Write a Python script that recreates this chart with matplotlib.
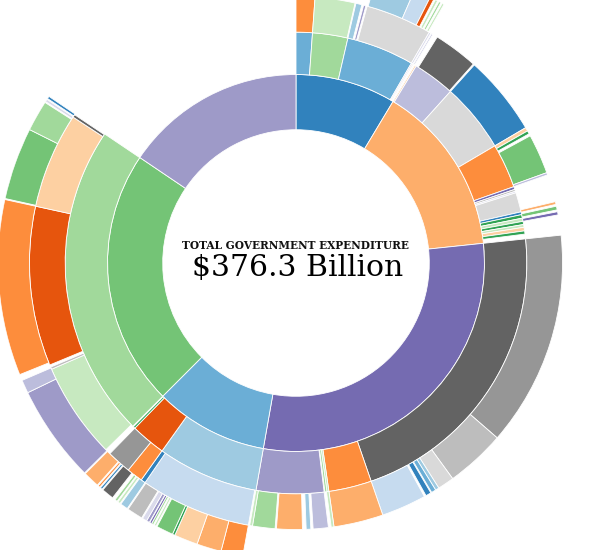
import numpy as np
import matplotlib.pyplot as plt

TOTAL = 376.3  # billion

# values in billions, clockwise from 12 o'clock; None colour = no segment there
ring1_vals = [32.4, 55.4, 110.8, 36.6, 82.6, 58.5]
ring1_cols = ['#3182bd', '#fdae6b', '#756bb1', '#6baed6', '#74c476', '#9e9ac8']

ring2_vals = [4.29, 9.30, 17.77, 0.31, 0.31, 0.21, 0.21,
              0.42, 11.08, 18.29, 11.71, 0.73, 0.52, 0.42, 5.12, 0.73, 0.94, 0.84, 0.84, 0.73, 0.94, 0.84, 1.25,
              80.49, 11.29, 0.52, 0.52, 0.21, 17.77,
              26.65, 9.20, 0.52, 0.21,
              82.58]
ring2_cols = ['#6baed6', '#a1d99b', '#6baed6', '#bcbddc', '#dadaeb', '#fdae6b', None,
              '#fdd0a2', '#bcbddc', '#d9d9d9', '#fd8d3c', '#756bb1', '#bdbdbd', '#dadaeb', '#d9d9d9', '#3182bd',
              '#31a354', '#c7e9c0', '#31a354', '#c7e9c0', '#fdd0a2', '#31a354', None,
              '#636363', '#fd8d3c', '#c7e9c0', '#a1d99b', None, '#9e9ac8',
              '#9ecae1', '#e6550d', '#31a354', None,
              '#a1d99b']

ring3_vals = [4.29, 9.09, 0.21, 1.36, 0.42, 0.52, 0.31, 15.16, 0.42, 0.21, 0.31, 0.10,
              1.05, 10.14, 0.31, 18.29, 0.84, 0.73, 0.52, 9.09, 0.52, 6.27, 0.63, 0.42, 0.84, 0.42, 0.73, 4.60,
              49.13, 13.59, 3.76, 0.84, 1.05, 0.21, 1.25, 0.42, 10.24,
              11.29, 0.63, 0.63, 3.45, 0.52, 1.05, 0.84, 5.85, 0.31, 5.12, 0.63,
              0.31, 25.30, 1.05, 3.66, 5.54, 0.73,
              0.52, 21.95, 0.52, 0.52, 36.38, 21.85, 0.63, 0.21]
ring3_cols = ['#fd8d3c', '#c7e9c0', None, '#9ecae1', None, '#9e9ac8', None, '#d9d9d9', '#dadaeb', None, '#bcbddc', None,
              None, '#636363', None, '#3182bd', '#fdd0a2', '#31a354', None, '#74c476', '#bcbddc', None,
              '#fdae6b', None, '#74c476', None, '#756bb1', None,
              '#969696', '#bdbdbd', '#d9d9d9', '#9ecae1', '#6baed6', None, '#3182bd', None, '#c6dbef',
              '#fdae6b', '#c7e9c0', None, '#bcbddc', None, '#9ecae1', None, '#fdae6b', None, '#a1d99b', '#c7e9c0',
              None, '#c6dbef', '#3182bd', '#fd8d3c', '#969696', None,
              None, '#c7e9c0', '#bdbdbd', None, '#e6550d', '#fdd0a2', '#636363', None]

ring4_vals = [16.41, 8.15, 3.45, 0.84, 0.31, 0.52, 0.31, 0.42, 0.31, 0.42, 167.77,
              4.49, 5.02, 4.81, 0.52, 3.45, 0.21, 0.42, 0.21, 0.42, 0.42, 0.10, 0.63, 0.94, 0.21,
              3.24, 0.21, 1.57, 0.21, 0.52, 0.21, 0.52, 0.63, 2.51, 0.21, 0.42, 0.21, 0.42, 0.21, 3.34, 0.21,
              19.86, 2.72, 1.25, 35.85, 0.21, 14.74, 6.27, 0.21, 0.52, 0.21, 0.52]
ring4_cols = [None, '#9ecae1', '#c6dbef', '#e6550d', None, '#c7e9c0', None, '#a1d99b', None, '#c7e9c0', None,
              '#fd8d3c', '#fdae6b', '#fdd0a2', '#31a354', '#74c476', None, '#c7e9c0', None, '#a1d99b',
              '#756bb1', None, '#9e9ac8', '#dadaeb', None,
              '#bdbdbd', None, '#9ecae1', None, '#c7e9c0', None, '#a1d99b', None, '#636363', None,
              '#3182bd', None, '#fd8d3c', None, '#fdae6b', None,
              '#9e9ac8', '#bcbddc', None, '#fd8d3c', None, '#74c476', '#a1d99b', None, '#dadaeb', None, '#3182bd']

rings = [(ring1_vals, ring1_cols), (ring2_vals, ring2_cols),
         (ring3_vals, ring3_cols), (ring4_vals, ring4_cols)]

W, H = 596, 550
CX, CY = 296, 263   # centre in pixels
R = 298             # outer radius in pixels

fig = plt.figure(figsize=(W / 100, H / 100), dpi=100)
ax = fig.add_axes([(CX - R) / W, (H - CY - R) / H, 2 * R / W, 2 * R / H], projection='polar')
ax.set_theta_zero_location('N')
ax.set_theta_direction(-1)
ax.set_ylim(0, R)
ax.set_axis_off()

# equal-area rings (sqrt radius scale), depth 0 is the empty centre
edges = R * np.sqrt(np.arange(6) / 5)

for depth, (vals, cols) in enumerate(rings, start=1):
    vals = np.array(vals)
    starts = np.concatenate([[0], np.cumsum(vals)[:-1]]) / TOTAL * 2 * np.pi
    widths = vals / TOTAL * 2 * np.pi
    keep = [c is not None for c in cols]
    ax.bar(starts[keep], edges[depth + 1] - edges[depth], width=widths[keep],
           bottom=edges[depth], align='edge',
           color=[c for c in cols if c is not None],
           edgecolor='white', linewidth=0.6)

fig.text(0.496, 1 - 249 / H, 'TOTAL GOVERNMENT EXPENDITURE', ha='center', va='baseline',
         family='DejaVu Serif', fontsize=7.6, fontweight='bold', color='#111111')
fig.text(0.500, 1 - 275.5 / H, '$376.3 Billion', ha='center', va='baseline',
         family='DejaVu Serif', fontsize=21.5, color='black')

fig.savefig('out.png', dpi=100)
